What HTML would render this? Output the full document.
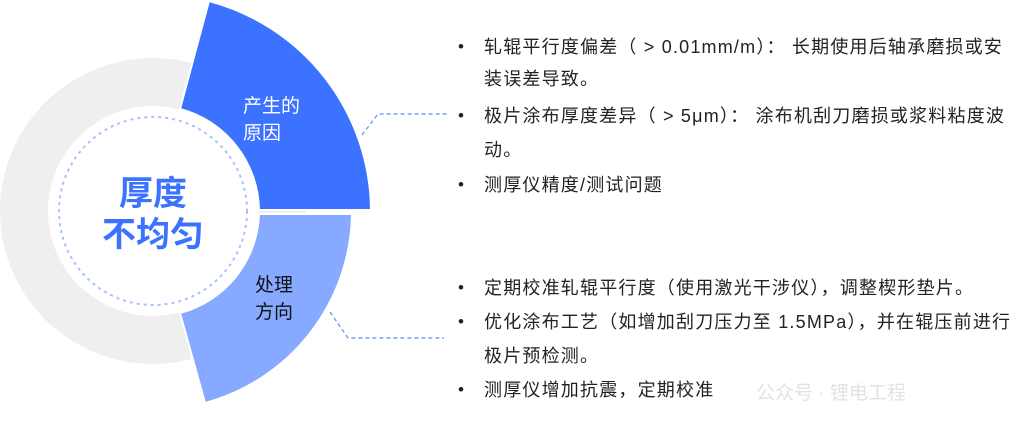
<!DOCTYPE html>
<html><head><meta charset="utf-8"><style>
body{margin:0;width:1024px;height:436px;background:#fff;position:relative;overflow:hidden;font-family:"Liberation Sans","Noto Sans CJK SC",sans-serif;}
.t{position:absolute;left:484px;font-size:18px;letter-spacing:1.2px;color:#222;white-space:nowrap;line-height:20px}
.b{position:absolute;left:458px;font-size:17px;color:#222;line-height:20px}
svg{position:absolute;left:0;top:0}
</style></head><body>
<svg width="1024" height="436">
<circle cx="153" cy="211" r="153" fill="#efefef"/>
<path d="M180,109 L209,1 A218 218 0 0 1 371,210 L259,210 A106 106 0 0 0 180,109 Z" fill="#3b72ff" stroke="#fff" stroke-width="2" stroke-linejoin="round"/>
<path d="M259,214 L352,214 A199 199 0 0 1 205,403 L180,313 A106 106 0 0 0 259,214 Z" fill="#87a9ff" stroke="#fff" stroke-width="2" stroke-linejoin="round"/>
<circle cx="153" cy="211" r="105" fill="#fff"/>
<circle cx="153" cy="211" r="94" fill="none" stroke="#a9c0ff" stroke-width="2" stroke-dasharray="3 4"/>
<path d="M362,135 L378,114 L448,114" fill="none" stroke="#5b8cff" stroke-width="1.2" stroke-dasharray="4 3"/>
<path d="M330,312 L348,338 L444,338" fill="none" stroke="#5b8cff" stroke-width="1.2" stroke-dasharray="4 3"/>
<text x="153" y="205" text-anchor="middle" font-size="34" font-weight="bold" fill="#3b72ff" font-family="Liberation Sans,Noto Sans CJK SC,sans-serif">厚度</text>
<text x="153" y="246" text-anchor="middle" font-size="34" font-weight="bold" fill="#3b72ff" font-family="Liberation Sans,Noto Sans CJK SC,sans-serif">不均匀</text>
<text x="243" y="112" font-size="19" fill="#fff" font-family="Liberation Sans,Noto Sans CJK SC,sans-serif">产生的</text>
<text x="243" y="139" font-size="19" fill="#fff" font-family="Liberation Sans,Noto Sans CJK SC,sans-serif">原因</text>
<text x="255" y="291" font-size="19" fill="#111" font-family="Liberation Sans,Noto Sans CJK SC,sans-serif">处理</text>
<text x="255" y="318" font-size="19" fill="#111" font-family="Liberation Sans,Noto Sans CJK SC,sans-serif">方向</text>
</svg>
<div class="b" style="top:37px">•</div><div class="t" style="top:37px">轧辊平行度偏差（ &gt; 0.01mm/m）： 长期使用后轴承磨损或安</div>
<div class="t" style="top:69px">装误差导致。</div>
<div class="b" style="top:106px">•</div><div class="t" style="top:106px">极片涂布厚度差异（ &gt; 5μm）： 涂布机刮刀磨损或浆料粘度波</div>
<div class="t" style="top:140px">动。</div>
<div class="b" style="top:175px">•</div><div class="t" style="top:175px">测厚仪精度/测试问题</div>
<div class="b" style="top:278px">•</div><div class="t" style="top:278px">定期校准轧辊平行度（使用激光干涉仪），调整楔形垫片。</div>
<div class="b" style="top:312px">•</div><div class="t" style="top:312px">优化涂布工艺（如增加刮刀压力至 1.5MPa），并在辊压前进行</div>
<div class="t" style="top:346px">极片预检测。</div>
<div class="b" style="top:380px">•</div><div class="t" style="top:380px">测厚仪增加抗震，定期校准</div>
<div style="position:absolute;left:756px;top:378px;font-size:19px;color:#e2e2e2;font-family:'Liberation Sans','Noto Sans CJK SC',sans-serif">公众号 · 锂电工程</div>
</body></html>
